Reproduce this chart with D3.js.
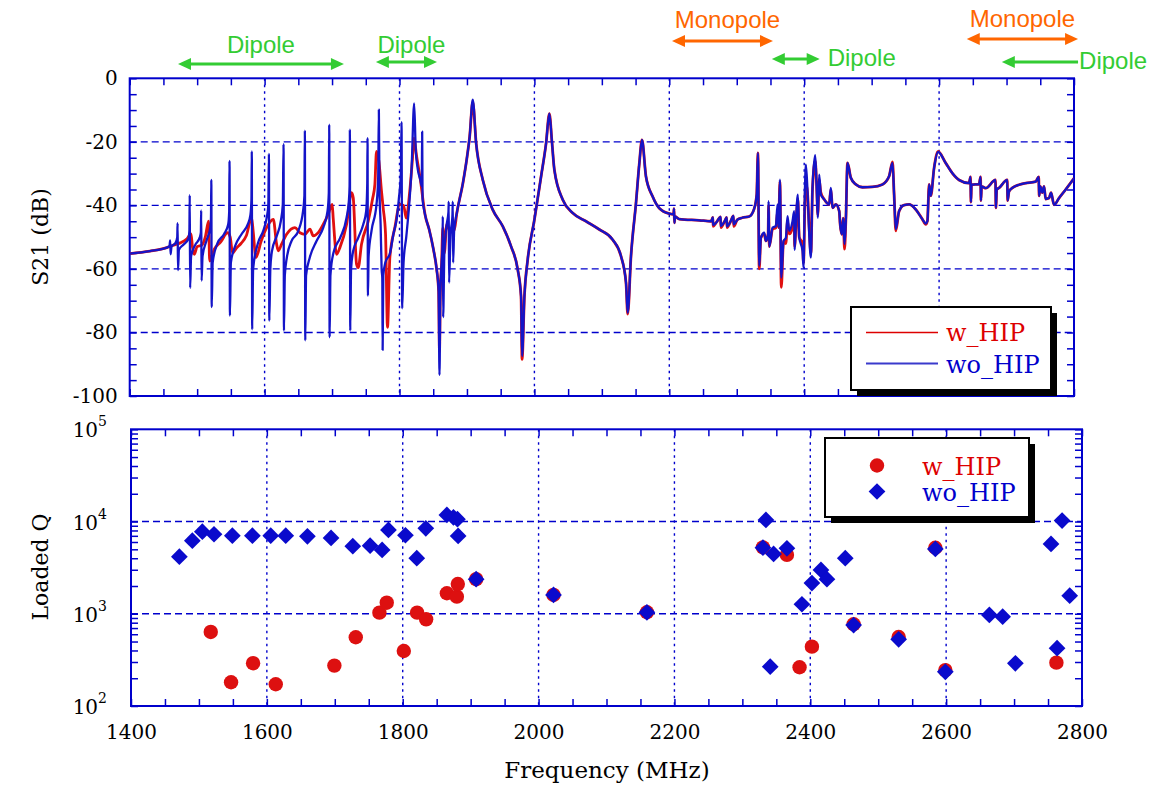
<!DOCTYPE html>
<html>
<head>
<meta charset="utf-8">
<script src="https://cdn.jsdelivr.net/npm/d3@7"></script>
<style>
  body { margin: 0; background: #fff; }
  svg { display: block; }
</style>
</head>
<body>
<svg width="1157" height="785"></svg>
<script>
// S21 below 1881 MHz, where the two runs differ: [MHz, dB]
const s21WoLow = [
  [1400,-55.2],[1430,-54.4],[1455,-53.3],
  [1459,-52.8],[1460,-51],[1460.6,-55.4],[1462,-53],
  [1468,-51.8],[1470.5,-50],[1471,-45.6],[1471.6,-60.4],[1473,-54],
  [1480,-52.3],[1487,-50.5],[1488.5,-48],[1489,-36.8],[1489.6,-66],[1491,-56],
  [1497,-52.5],[1504,-50],[1505.5,-48.5],[1506,-41.6],[1506.6,-63.7],[1508,-56],
  [1514,-51],[1519.5,-47],[1520.5,-44],[1521,-32],[1521.6,-72],[1523,-58],
  [1530,-52],[1540,-49],[1546,-46],[1547.5,-42],[1548,-26],[1548.6,-74.7],[1550,-58],
  [1556,-53],[1566,-49],[1575,-46],[1579,-43],[1580.5,-38],[1581,-23],[1581.6,-79],[1583,-60],
  [1590,-52],[1598,-48],[1603,-44],[1605.5,-40],[1606.4,-23.8],[1607,-76.3],[1608.5,-60],
  [1611,-54.3],[1618,-49.6],[1624,-45],[1627,-39.7],[1628.1,-20.7],[1628.7,-79.4],[1630,-62],
  [1633,-56.4],[1640,-51.2],[1650,-48],[1657,-41.8],[1659,-37],[1659.7,-16.5],[1660.3,-82.5],[1661.5,-62],
  [1667,-56.4],[1677,-51.2],[1687,-47],[1693.3,-41.8],[1695.2,-36],[1695.8,-14.6],[1696.4,-81.5],[1697.6,-62],
  [1702,-55],[1712,-50.2],[1721.5,-43.9],[1724.9,-38.7],[1726,-34],[1726.4,-16.2],[1727,-79.4],[1728.2,-60],
  [1731.4,-54.3],[1738.8,-50.2],[1746.2,-46],[1750.6,-41.8],[1752.2,-33],[1752.6,-18.8],[1753.2,-68.4],[1754.2,-56],
  [1758.5,-48],[1765.9,-39.7],[1768.4,-31.3],[1769.4,-9.9],[1770.3,-35],[1772,-46],[1773.5,-60],[1774.5,-63],
  [1775,-85.5],[1776,-62],[1779,-58],[1786,-55],[1791,-49],[1796,-44],[1799,-38],[1802,-30],
  [1803,-13.8],[1804,-72.4],[1806,-58],[1810,-50],[1815,-38],[1818,-28],[1821.7,-7.9],[1824,-22],
  [1827,-28.5],[1831,-32],[1833,-34],[1833.6,-16.8],[1834.2,-38],[1838,-43],[1844,-47.6],[1850,-53.5],
  [1855,-60],[1858,-67],[1859.3,-93.4],[1860.5,-68],[1862.5,-58],[1863.8,-52],[1864.2,-43.5],[1864.7,-75.2],
  [1866.5,-55],[1870,-46],[1872.6,-42],[1873,-38.8],[1873.5,-64.3],[1875.5,-50],[1878.5,-43],[1879,-38.8],
  [1879.5,-58],[1881,-48]
];
const s21WLow = [
  [1400,-55.2],[1430,-54.4],[1455,-53.3],[1465,-52.5],[1475,-51.8],[1485,-50.5],[1490.9,-49],[1493,-53],
  [1495.8,-55.4],[1500,-53],[1507,-52.5],[1512,-50],[1517,-45],[1518.5,-57.5],[1525.4,-53.8],[1535,-51.5],
  [1545.2,-48.6],[1549,-50],[1552.6,-55],[1558,-53.5],[1565,-52],[1573,-49.5],[1580.7,-43.9],[1583,-48],
  [1587.1,-56.4],[1595,-51.2],[1603,-47],[1612.9,-44.4],[1617.8,-52.2],[1620.3,-54.3],[1625.2,-52.2],
  [1632.6,-49.1],[1645,-47],[1652.4,-48.6],[1659.8,-49.1],[1667.2,-47.5],[1672.1,-49.6],[1679.5,-48.6],
  [1686.9,-46],[1694.3,-42.8],[1700.2,-39.7],[1701.7,-44],[1706.7,-55.4],[1711.6,-53.3],[1721.5,-46],
  [1728.9,-36],[1731.4,-37.6],[1736.3,-58.5],[1738.8,-59.6],[1743.7,-52.2],[1753.6,-45],[1760,-38],
  [1763.5,-33.4],[1765.9,-23],[1769.4,-26],[1773.3,-35.5],[1775.8,-40.8],[1779.3,-49],[1782.2,-78.4],
  [1785.7,-56.4],[1793.1,-47],[1800.5,-39.7],[1806,-40],[1810,-44],[1815,-36],[1819,-26],[1821.7,-18.8],
  [1825,-24],[1831,-32],[1838,-43],[1844,-47.6],[1850,-53.5],[1855,-60],[1858,-67],[1859.3,-86],
  [1860.5,-68],[1862.5,-58],[1864.2,-47],[1866.5,-55],[1870,-46],[1875.5,-48],[1881,-48]
];
// S21 above 1881 MHz: [MHz, wo_HIP dB, w_HIP dB]
const s21High = [
  [1885,-42.4,-42.4],[1894,-33,-33],[1900,-25,-25],[1904,-18.4,-18.4],[1908.6,-6.7,-7.5],
  [1913.6,-20.4,-20.4],[1923.5,-32,-32],[1938.3,-41.4,-41.4],[1953.1,-46.6,-46.6],[1965.4,-52.9,-52.9],
  [1975.3,-60.2,-60.2],[1980.2,-68.6,-68.6],[1981.7,-87.4,-88.5],[1985.2,-68.6,-68.6],[1990.1,-57,-57],
  [2000,-44.5,-44.5],[2009.9,-30.9,-30.9],[2017.3,-20.5,-20.5],[2022.2,-11.1,-11.1],[2026,-20,-20],
  [2029.6,-28.8,-28.8],[2042,-38.2,-38.2],[2056.8,-42.4,-42.4],[2076.5,-45,-45],[2096.3,-47.6,-47.6],
  [2116,-50.8,-50.8],[2128.4,-56,-56],[2135.8,-64.3,-64.3],[2138.3,-73.8,-74.2],[2143.2,-56,-56],
  [2150.6,-39.3,-39.3],[2155.6,-26.7,-26.7],[2159.5,-19.4,-19.4],[2165.4,-30.9,-30.9],[2175.3,-37.2,-37.2],
  [2185.2,-40.9,-40.9],[2200,-42.6,-42.6],[2206.5,-42.8,-42.8],[2207,-41,-41],[2207.6,-45.5,-45.5],
  [2208.5,-43.5,-43.5],[2214.8,-44.3,-44.3],[2244.4,-44.7,-44.7],[2262,-45,-45],[2264.5,-43.8,-43.8],
  [2265,-46.2,-46.6],[2270,-45.3,-45.3],[2276,-43.6,-43.6],[2276.5,-46.5,-47],[2282,-45,-45],
  [2285,-43.8,-43.8],[2285.5,-46.6,-47],[2291,-45,-45],[2295,-43.3,-43.3],[2295.5,-46,-46.6],
  [2301,-44.5,-44.5],[2308,-43.9,-43.9],[2318.5,-43.5,-43.5],[2325.9,-41,-41],[2329.6,-36.6,-36.6],
  [2331.4,-23.5,-23.5],[2333.3,-59,-60],[2335.8,-50.2,-50.2],[2340.7,-48.6,-49],[2343.2,-51.2,-51.2],
  [2346.5,-49,-49],[2347.2,-38.7,-40],[2348.2,-53,-53],[2353.1,-47,-47.5],[2358,-46.5,-47],
  [2360.5,-39.7,-42],[2362,-47,-47],[2364,-31.9,-32.5],[2366,-62.7,-65.8],[2369.4,-51.2,-51.2],
  [2372.8,-50.2,-52],[2375.3,-43.4,-45],[2377.8,-48,-49],[2382.7,-45,-47],[2385.2,-41.8,-44],
  [2385.8,-54,-53],[2387.6,-46,-47],[2390.6,-36.6,-38],[2392.6,-50,-50],[2397.5,-54.3,-52],
  [2399,-59.6,-58],[2401,-35.5,-40],[2402.5,-27.2,-33],[2404.9,-35.5,-36],[2407.4,-49,-47],
  [2409.9,-56.4,-55],[2412.3,-34.5,-35],[2416.3,-24.2,-26],[2418.3,-33.4,-33],[2420.2,-43.9,-43],
  [2422.2,-30.3,-32],[2424.7,-36.6,-36],[2429.6,-38.1,-38.1],[2437,-39.7,-39.7],[2439.5,-34.5,-35],
  [2442,-40.8,-40.8],[2446.9,-39.7,-39.7],[2451.9,-41.8,-41.8],[2453.3,-46,-46],[2455.8,-49.1,-49.1],
  [2457.8,-44,-44],[2459.8,-52.2,-53.8],[2461.7,-45,-45],[2464.2,-26.6,-26.6],[2469.1,-31.3,-31.3],
  [2476.5,-33.4,-33.4],[2486.4,-34.3,-34.3],[2501.2,-34.2,-34.2],[2516,-33.4,-33.4],[2525.9,-30.8,-30.8],
  [2530.9,-26.6,-26.3],[2533.3,-36.6,-36.6],[2535.8,-47.5,-48],[2540.7,-41.8,-41.8],[2548.1,-39.9,-39.9],
  [2555.6,-39.7,-39.7],[2565.4,-41.3,-41.3],[2575.3,-44.4,-44.4],[2580.2,-45.7,-46],[2582.7,-44.9,-44.9],
  [2585.2,-33.4,-33.4],[2587.7,-37,-37],[2592.6,-28.2,-28.2],[2598.5,-23.2,-23],[2609.9,-26.7,-26.7],
  [2619.8,-29.9,-29.9],[2629.6,-32,-32],[2644.4,-33,-33],[2646.6,-31,-31],[2647.2,-39,-39],
  [2648,-33.5,-33.5],[2659.3,-33.3,-33.3],[2661.5,-31,-31],[2662,-38.5,-38.5],[2663,-34,-34],
  [2669.1,-34.6,-34.6],[2683.6,-32,-32],[2684.2,-40.8,-40.8],[2685.5,-35,-35],[2688.9,-34.5,-34.5],
  [2701,-32,-32],[2701.6,-38.5,-38.5],[2703.7,-35.6,-35.6],[2708.6,-34.5,-34.5],[2718.5,-33.5,-33.5],
  [2728.4,-33,-33],[2743.2,-32.5,-32.5],[2747.7,-31,-31],[2748.3,-37,-37],[2750,-34,-34],
  [2753,-36,-36],[2755.6,-34,-34],[2758,-38,-38],[2763,-37.7,-37.7],[2766,-36,-36],
  [2770.4,-39.8,-39.8],[2777.8,-37.7,-37.7],[2787.7,-35,-35],[2800,-31.5,-31.5]
];

// loaded Q: [MHz, Q]
const qWithHip = [
  [1517.4,635],[1547.3,181],[1579.7,291],[1613.1,172],[1699.4,274],[1730.9,556],[1765.7,1028],
  [1776.5,1318],[1801.6,395],[1821.2,1028],[1834.5,871],[1865,1668],[1879.7,1534],[1881.1,2100],
  [1908.1,2370],[2022,1600],[2159.5,1038],[2330.3,5250],[2365.6,4350],[2384.2,263],[2402.4,440],
  [2463.8,770],[2530.1,560],[2584.1,5200],[2598.8,245],[2762.3,295]
];
const qWithoutHip = [
  [1471.2,4160],[1490.3,6200],[1505,7760],[1522.2,7280],[1549.2,7030],[1578.7,7030],[1605.7,7030],
  [1627.8,7030],[1659.7,6920],[1694.5,6640],[1726.5,5400],[1752,5480],[1769.7,4920],[1779,8110],
  [1804,7100],[1820.7,4000],[1834,8450],[1865,11800],[1874.7,11100],[1880.6,10600],[1881.6,6980],
  [1908.1,2370],[2022,1600],[2159.5,1038],[2330.3,5210],[2334.7,10400],[2341,267],[2346,4460],
  [2365.6,5130],[2387.7,1268],[2402.4,2150],[2415.7,2990],[2424.5,2370],[2451.5,4000],[2463.8,755],
  [2530.1,529],[2584.1,5050],[2598.8,235],[2663.6,970],[2683.2,931],[2701.9,290],[2754.4,5710],
  [2763.3,423],[2770.7,10240],[2781.9,1571]
];

const freqTicks = [1400, 1600, 1800, 2000, 2200, 2400, 2600, 2800];
const dbTicks = [0, -20, -40, -60, -80, -100];
const qTicks = [1e2, 1e3, 1e4, 1e5];

// mode bands above the top panel: [label, from MHz, to MHz]
const modeBands = [
  ["Dipole", 1471.6, 1717.6],
  ["Dipole", 1765, 1855.6],
  ["Monopole", 2204, 2353.7],
  ["Dipole", 2352, 2423],
  ["Monopole", 2641, 2806],
  ["Dipole", 2693, 2806]
];

const svg = d3.select("svg");
const BLUE = "#0000cc", RED = "#dd0000", GREEN = "#33cc33", ORANGE = "#ff6600";
const serif = "'DejaVu Serif', serif";

const xTop = d3.scaleLinear().domain([1400, 2800]).range([129.7, 1074]);
const yTop = d3.scaleLinear().domain([-100, 0]).range([396, 78.3]);
const xBot = d3.scaleLinear().domain([1400, 2800]).range([131, 1082]);
const yBot = d3.scaleLog().domain([1e2, 1e5]).range([706, 429.3]);

// grid, inward ticks and frame for one panel
function drawFrame(x, y, yMajor, yMinor) {
  const [x0, x1] = x.range();
  const [y0, y1] = y.range();
  const g = svg.append("g");

  g.append("g").selectAll("line").data(freqTicks.slice(1, -1)).join("line")
    .attr("x1", d => x(d)).attr("x2", d => x(d))
    .attr("y1", y1).attr("y2", y0)
    .attr("stroke", BLUE).attr("stroke-width", 1.4).attr("stroke-dasharray", "2.5,4");
  g.append("g").selectAll("line").data(yMajor.filter(v => v !== y.domain()[0] && v !== y.domain()[1])).join("line")
    .attr("x1", x0).attr("x2", x1)
    .attr("y1", d => y(d)).attr("y2", d => y(d))
    .attr("stroke", BLUE).attr("stroke-width", 1.4).attr("stroke-dasharray", "7,4");

  const style = a => a.call(s => s.select(".domain").remove())
    .call(s => s.selectAll("line").attr("stroke", BLUE).attr("stroke-width", 1.5));
  const minX = d3.range(1400, 2801, 50);
  g.append("g").attr("transform", `translate(0,${y0})`)
    .call(d3.axisBottom(x).tickValues(minX).tickSize(-7).tickFormat("")).call(style);
  g.append("g").attr("transform", `translate(0,${y1})`)
    .call(d3.axisTop(x).tickValues(minX).tickSize(-7).tickFormat("")).call(style);
  g.append("g").attr("transform", `translate(${x0},0)`)
    .call(d3.axisLeft(y).tickValues(yMinor).tickSize(-7).tickFormat("")).call(style);
  g.append("g").attr("transform", `translate(${x1},0)`)
    .call(d3.axisRight(y).tickValues(yMinor).tickSize(-7).tickFormat("")).call(style);

  g.append("rect").attr("x", x0).attr("y", y1)
    .attr("width", x1 - x0).attr("height", y0 - y1)
    .attr("fill", "none").attr("stroke", BLUE).attr("stroke-width", 2);
}

drawFrame(xTop, yTop, dbTicks, d3.range(-100, 1, 5));
const logMinor = [];
[1e2, 1e3, 1e4].forEach(p => d3.range(1, 10).forEach(k => logMinor.push(p * k)));
logMinor.push(1e5);
drawFrame(xBot, yBot, qTicks, logMinor);

// S21 traces
svg.append("clipPath").attr("id", "clipTop").append("rect")
  .attr("x", 129.7).attr("y", 78.3).attr("width", 1074 - 129.7).attr("height", 396 - 78.3);
const line = d3.line().curve(d3.curveMonotoneX).x(d => xTop(d[0])).y(d => yTop(d[1]));
const redTrace = s21WLow.concat(s21High.map(d => [d[0], d[2]]));
const blueTrace = s21WoLow.concat(s21High.map(d => [d[0], d[1]]));
const traces = svg.append("g").attr("clip-path", "url(#clipTop)");
traces.append("path").attr("d", line(redTrace))
  .attr("fill", "none").attr("stroke", "#e01010").attr("stroke-width", 2.8).attr("stroke-linejoin", "round");
traces.append("path").attr("d", line(blueTrace))
  .attr("fill", "none").attr("stroke", "#1414c8").attr("stroke-width", 2.3).attr("stroke-linejoin", "round");

// loaded Q markers
const diamond = d3.symbol().type(d3.symbolSquare).size(140);
svg.append("g").selectAll("circle").data(qWithHip).join("circle")
  .attr("cx", d => xBot(d[0])).attr("cy", d => yBot(d[1])).attr("r", 7.2)
  .attr("fill", "#dd1010");
svg.append("g").selectAll("path").data(qWithoutHip).join("path")
  .attr("d", diamond)
  .attr("transform", d => `translate(${xBot(d[0])},${yBot(d[1])}) rotate(45)`)
  .attr("fill", "#0a0acc");

// tick labels
svg.append("g").attr("transform", "translate(129.7,0)")
  .call(d3.axisLeft(yTop).tickValues(dbTicks).tickSize(0).tickPadding(12).tickFormat(d => String(d)))
  .call(a => a.select(".domain").remove())
  .call(a => a.selectAll("text").attr("font-family", serif).attr("font-size", 20).attr("fill", "#000"));

svg.append("g").attr("transform", "translate(0,706)")
  .call(d3.axisBottom(xBot).tickValues(freqTicks).tickSize(0).tickPadding(19).tickFormat(d => String(d)))
  .call(a => a.select(".domain").remove())
  .call(a => a.selectAll("text").attr("font-family", serif).attr("font-size", 20).attr("fill", "#000"));

svg.append("g").selectAll("text").data(qTicks).join("text")
  .attr("x", 107).attr("y", d => yBot(d) + 8)
  .attr("text-anchor", "end").attr("font-family", serif).attr("font-size", 20)
  .call(t => {
    t.append("tspan").text("10");
    t.append("tspan").attr("dy", -11).attr("font-size", 14).text(d => Math.round(Math.log10(d)));
  });

// axis titles
svg.append("text").attr("transform", "translate(48,237) rotate(-90)")
  .attr("text-anchor", "middle").attr("font-family", serif).attr("font-size", 22)
  .text("S21 (dB)");
svg.append("text").attr("transform", "translate(48,567) rotate(-90)")
  .attr("text-anchor", "middle").attr("font-family", serif).attr("font-size", 22)
  .text("Loaded Q");
svg.append("text").attr("x", 607).attr("y", 778)
  .attr("text-anchor", "middle").attr("font-family", serif).attr("font-size", 23)
  .text("Frequency (MHz)");

// legends with drop shadow
function legendBox(x, y, w, h) {
  svg.append("rect").attr("x", x + 6).attr("y", y + 6).attr("width", w).attr("height", h).attr("fill", "#000");
  svg.append("rect").attr("x", x).attr("y", y).attr("width", w).attr("height", h)
    .attr("fill", "#fff").attr("stroke", "#000").attr("stroke-width", 2);
}
legendBox(851, 307, 200, 83);
svg.append("line").attr("x1", 866).attr("x2", 938).attr("y1", 332.5).attr("y2", 332.5)
  .attr("stroke", RED).attr("stroke-width", 1.5);
svg.append("line").attr("x1", 866).attr("x2", 938).attr("y1", 363.5).attr("y2", 363.5)
  .attr("stroke", "#3a3acc").attr("stroke-width", 2);
svg.append("text").attr("x", 946).attr("y", 341).attr("fill", RED)
  .attr("font-family", serif).attr("font-size", 24).text("w_HIP");
svg.append("text").attr("x", 946).attr("y", 373).attr("fill", BLUE)
  .attr("font-family", serif).attr("font-size", 24).text("wo_HIP");

legendBox(825, 438, 204, 79);
svg.append("circle").attr("cx", 877).attr("cy", 465.5).attr("r", 7.2).attr("fill", "#dd1010");
svg.append("path").attr("d", diamond).attr("transform", "translate(877,491.5) rotate(45)").attr("fill", "#0a0acc");
svg.append("text").attr("x", 922).attr("y", 475).attr("fill", RED)
  .attr("font-family", serif).attr("font-size", 24).text("w_HIP");
svg.append("text").attr("x", 922).attr("y", 501).attr("fill", BLUE)
  .attr("font-family", serif).attr("font-size", 24).text("wo_HIP");

// mode band arrows
const bandLayout = [
  { y: 64, ty: 53, anchor: "middle", left: true, right: true },
  { y: 62, ty: 53, anchor: "middle", left: true, right: true, dx: 5 },
  { y: 41, ty: 28, anchor: "middle", left: true, right: true, dx: 5 },
  { y: 59, ty: 66, anchor: "start", left: true, right: true, gap: 8 },
  { y: 39, ty: 27, anchor: "middle", left: true, right: true },
  { y: 62, ty: 69, anchor: "start", left: true, right: false, gap: 1 }
];
const bands = svg.append("g").attr("font-family", "'Liberation Sans', Arial, sans-serif").attr("font-size", 24);
modeBands.forEach((b, i) => {
  const L = bandLayout[i];
  const col = b[0] === "Monopole" ? ORANGE : GREEN;
  const xa = xTop(b[1]), xb = xTop(b[2]);
  const ah = 13, hw = 6;
  bands.append("line")
    .attr("x1", xa + (L.left ? ah - 1 : 0)).attr("x2", xb - (L.right ? ah - 1 : 0))
    .attr("y1", L.y).attr("y2", L.y).attr("stroke", col).attr("stroke-width", 3);
  if (L.left) bands.append("path").attr("d", `M${xa},${L.y}L${xa + ah},${L.y - hw}L${xa + ah},${L.y + hw}Z`).attr("fill", col);
  if (L.right) bands.append("path").attr("d", `M${xb},${L.y}L${xb - ah},${L.y - hw}L${xb - ah},${L.y + hw}Z`).attr("fill", col);
  const tx = L.anchor === "middle" ? (xa + xb) / 2 + (L.dx || 0) : xb + L.gap;
  bands.append("text").attr("x", tx).attr("y", L.ty).attr("text-anchor", L.anchor)
    .attr("fill", col).text(b[0]);
});
</script>
</body>
</html>
